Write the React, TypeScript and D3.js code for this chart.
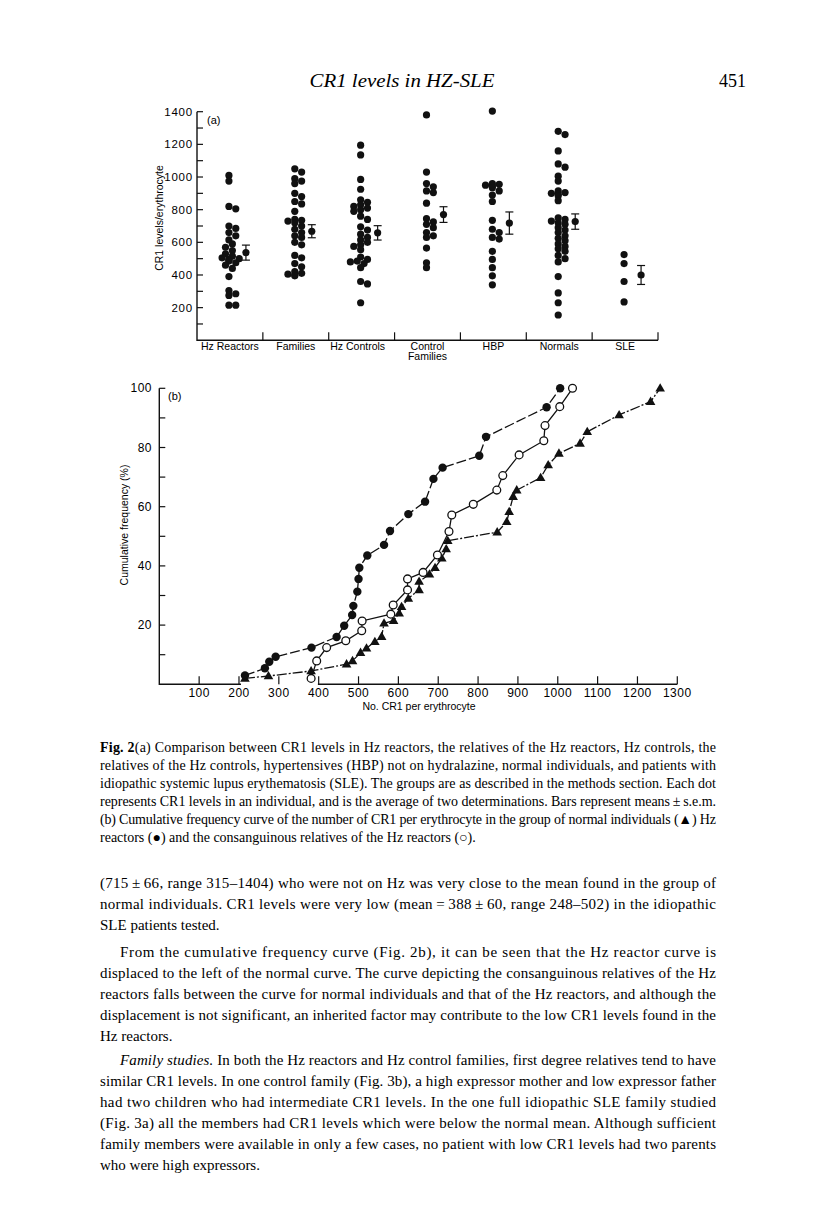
import * as d3 from "d3";

// ---- Fig 2(a): CR1 levels per group ----
const groups = ["Hz Reactors", "Families", "Hz Controls", "Control Families", "HBP", "Normals", "SLE"];

const hzReactors = [1010, 975, 820, 805, 700, 685, 660, 640, 615, 590, 570, 550, 530, 515, 505, 500, 495, 490, 485, 475, 460, 440, 390, 305, 285, 275, 215, 215];
const families = [1050, 1030, 990, 975, 960, 900, 880, 850, 835, 790, 740, 735, 730, 720, 700, 680, 660, 640, 630, 600, 585, 520, 505, 470, 450, 420, 410, 405, 400, 395];
const hzControls = [1195, 1135, 985, 925, 860, 845, 830, 820, 810, 800, 790, 760, 740, 695, 675, 650, 630, 615, 600, 585, 575, 555, 510, 495, 485, 480, 470, 445, 360, 345, 230];
const controlFamilies = [1380, 1030, 960, 940, 915, 905, 840, 745, 725, 710, 690, 660, 640, 630, 565, 475, 445];
const hbp = [1404, 960, 955, 950, 945, 935, 915, 890, 850, 735, 680, 660, 630, 620, 545, 495, 445, 395, 340];
const normals = [1280, 1260, 1160, 1080, 1060, 1005, 975, 915, 905, 900, 895, 885, 855, 750, 740, 730, 720, 710, 690, 675, 660, 640, 625, 610, 590, 575, 560, 545, 520, 500, 480, 390, 290, 230, 155];
const sle = [525, 470, 360, 235];

const groupValues = [hzReactors, families, hzControls, controlFamilies, hbp, normals, sle];
const groupMeans = [537, 668, 658, 770, 718, 727, 400];
const groupSems = [46, 40, 44, 48, 68, 47, 58];

// ---- Fig 2(b): cumulative frequency ----
const reactorsCum: [number, number][] = [
  [215, 3], [265, 5.4], [276, 7.6], [292, 9.3], [382, 12.4], [445, 16], [464, 19.8], [484, 23.4],
  [487, 26.5], [497, 31.3], [500, 35.6], [502, 39.4], [522, 43.5], [564, 47.1], [579, 51.8],
  [625, 57.5], [667, 61.7], [688, 69.4], [711, 73.2], [803, 77.2], [820, 83.6], [972, 93.6], [1006, 100],
];
const relativesCum: [number, number][] = [
  [381, 2], [395, 7.9], [420, 12.4], [468, 14.7], [508, 18.1], [509, 21.4], [581, 23.7], [587, 26.8],
  [623, 31.9], [623, 35.6], [662, 37.8], [698, 43.7], [727, 51.6], [734, 57.2], [788, 60.8],
  [847, 65.6], [862, 70.5], [903, 77.5], [965, 82.3], [968, 87.4], [1005, 93.8], [1037, 100],
];
const normalsCum: [number, number][] = [
  [215, 2], [274, 2.8], [381, 4.5], [470, 6.8], [485, 7.9], [505, 10.7], [520, 12.2], [541, 14.4],
  [558, 16.1], [564, 20.6], [588, 21.5], [602, 24], [608, 26.2], [625, 29], [652, 31.9], [652, 34.7],
  [678, 37.2], [692, 39.4], [709, 42.6], [720, 45.7], [724, 48.5], [848, 51.4], [872, 54.9],
  [878, 58.3], [888, 63.4], [897, 65.6], [957, 69.8], [976, 74.1], [1003, 78], [1056, 81.4],
  [1074, 85.3], [1154, 91], [1233, 95.5], [1257, 100],
];

const captionLines = [
  "(a) Comparison between CR1 levels in Hz reactors, the relatives of the Hz reactors, Hz controls, the",
  "relatives of the Hz controls, hypertensives (HBP) not on hydralazine, normal individuals, and patients with",
  "idiopathic systemic lupus erythematosis (SLE). The groups are as described in the methods section. Each dot",
  "represents CR1 levels in an individual, and is the average of two determinations. Bars represent means\u2009±\u2009s.e.m.",
  "(b) Cumulative frequency curve of the number of CR1 per erythrocyte in the group of normal individuals (\u25B2) Hz",
  "reactors (\u25CF) and the consanguinous relatives of the Hz reactors (\u25CB).",
];

const bodyLines: [string, boolean, boolean][] = [
  // text, indent, justify
  ["(715\u2009±\u200966, range 315–1404) who were not on Hz was very close to the mean found in the group of", false, true],
  ["normal individuals. CR1 levels were very low (mean\u2009=\u2009388\u2009±\u200960, range 248–502) in the idiopathic", false, true],
  ["SLE patients tested.", false, false],
  ["From the cumulative frequency curve (Fig. 2b), it can be seen that the Hz reactor curve is", true, true],
  ["displaced to the left of the normal curve. The curve depicting the consanguinous relatives of the Hz", false, true],
  ["reactors falls between the curve for normal individuals and that of the Hz reactors, and although the", false, true],
  ["displacement is not significant, an inherited factor may contribute to the low CR1 levels found in the", false, true],
  ["Hz reactors.", false, false],
  ["In both the Hz reactors and Hz control families, first degree relatives tend to have", true, true],
  ["similar CR1 levels. In one control family (Fig. 3b), a high expressor mother and low expressor father", false, true],
  ["had two children who had intermediate CR1 levels. In the one full idiopathic SLE family studied", false, true],
  ["(Fig. 3a) all the members had CR1 levels which were below the normal mean. Although sufficient", false, true],
  ["family members were available in only a few cases, no patient with low CR1 levels had two parents", false, true],
  ["who were high expressors.", false, false],
];
const bodyBaselines = [888, 909, 930, 957, 978, 999, 1020, 1041, 1065, 1086, 1107, 1128, 1149, 1170];

const sans = "'Liberation Sans', Arial, sans-serif";
const serif = "'Liberation Serif', 'Times New Roman', serif";

// simple dodge so touching dots spread sideways
function dodge(values: number[], y: (v: number) => number, r: number) {
  const placed: { x: number; y: number }[] = [];
  return [...values]
    .sort((a, b) => b - a)
    .map((v) => {
      const cy = y(v);
      let dx = 0;
      for (const s of [0, 1, -1, 2, -2, 3, -3]) {
        const cx = s * r * 0.95;
        if (placed.every((p) => Math.hypot(p.x - cx, p.y - cy) >= r * 1.35)) {
          dx = cx;
          break;
        }
      }
      placed.push({ x: dx, y: cy });
      return { x: dx, y: cy };
    });
}

function ChartA() {
  const x = d3.scaleBand().domain(groups).range([197, 658]);
  const y = d3.scaleLinear().domain([0, 1400]).range([340.3, 111.7]);
  const r = 3.6;
  const yTicks = d3.range(100, 1401, 100);
  return (
    <g>
      {/* axes */}
      <path d={`M${x.range()[0]},${y(1400)}V${y(0)}H${x.range()[1]}`} fill="none" stroke="#111" strokeWidth={1.4} />
      {yTicks.map((t) => (
        <line key={t} x1={197} x2={203} y1={y(t)} y2={y(t)} stroke="#111" strokeWidth={1.2} />
      ))}
      {yTicks.filter((t) => t % 200 === 0).map((t) => (
        <text key={t} x={193} y={y(t) + 4} textAnchor="end" fontSize={11.5} fontFamily={sans} letterSpacing={0.8}>
          {t}
        </text>
      ))}
      {groups.map((g) => (
        <line key={g} x1={x(g)! + x.bandwidth()} x2={x(g)! + x.bandwidth()} y1={y(0)} y2={y(0) - 8} stroke="#111" strokeWidth={1.2} />
      ))}
      {groups.map((g) => {
        const cx = x(g)! + x.bandwidth() / 2;
        const words = g === "Control Families" ? ["Control", "Families"] : [g];
        return words.map((w, i) => (
          <text key={g + w} x={cx - (g === "Hz Controls" ? 4 : 0)} y={350 + i * 10} textAnchor="middle" fontSize={10.5} fontFamily={sans}>
            {w}
          </text>
        ));
      })}
      <text transform={`translate(163,218) rotate(-90)`} textAnchor="middle" fontSize={10.5} fontFamily={sans}>
        CR1 levels/erythrocyte
      </text>
      <text x={207} y={124} fontSize={11} fontFamily={sans}>(a)</text>
      {/* dots */}
      {groups.map((g, gi) => {
        const cx = x(g)! + x.bandwidth() / 2 - 1;
        return dodge(groupValues[gi], y, r).map((p, i) => (
          <circle key={g + i} cx={cx + p.x} cy={p.y} r={r} fill="#111" />
        ));
      })}
      {/* mean ± sem */}
      {groups.map((g, gi) => {
        const mx = x(g)! + x.bandwidth() / 2 + 16;
        const hi = y(groupMeans[gi] + groupSems[gi]);
        const lo = y(groupMeans[gi] - groupSems[gi]);
        return (
          <g key={g + "m"} stroke="#111" strokeWidth={1.2}>
            <line x1={mx} x2={mx} y1={hi} y2={lo} />
            <line x1={mx - 4} x2={mx + 4} y1={hi} y2={hi} />
            <line x1={mx - 4} x2={mx + 4} y1={lo} y2={lo} />
            <circle cx={mx} cy={y(groupMeans[gi])} r={3.6} fill="#111" stroke="none" />
          </g>
        );
      })}
    </g>
  );
}

function ChartB() {
  const x = d3.scaleLinear().domain([0, 1300]).range([159.3, 677.3]);
  const y = d3.scaleLinear().domain([0, 100]).range([684.3, 388.3]);
  const line = d3.line<[number, number]>().x((d) => x(d[0])).y((d) => y(d[1]));
  const tri = d3.symbol(d3.symbolTriangle, 40)()!;
  const yTicks = d3.range(10, 101, 10);
  const xTicks = d3.range(100, 1301, 100);
  return (
    <g>
      <path d={`M${x(0)},${y(100)}V${y(0)}H${x(205)}`} fill="none" stroke="#111" strokeWidth={1.4} />
      <path d={`M${x(398)},${y(0)}H${x(1300)}`} fill="none" stroke="#111" strokeWidth={1.4} />
      {yTicks.map((t) => (
        <line key={t} x1={x(0)} x2={x(0) + 6} y1={y(t)} y2={y(t)} stroke="#111" strokeWidth={1.2} />
      ))}
      {yTicks.filter((t) => t % 20 === 0).map((t) => (
        <text key={t} x={152} y={y(t) + 4} textAnchor="end" fontSize={12} fontFamily={sans} letterSpacing={0.5}>
          {t}
        </text>
      ))}
      {xTicks.map((t) => (
        <line key={t} x1={x(t)} x2={x(t)} y1={y(0)} y2={y(0) - 8} stroke="#111" strokeWidth={1.2} />
      ))}
      {xTicks.map((t) => (
        <text key={t} x={x(t)} y={697} textAnchor="middle" fontSize={12} fontFamily={sans} letterSpacing={0.5}>
          {t}
        </text>
      ))}
      <text x={419} y={710} textAnchor="middle" fontSize={10.5} fontFamily={sans}>No. CR1 per erythrocyte</text>
      <text transform={`translate(128,525) rotate(-90)`} textAnchor="middle" fontSize={10.5} fontFamily={sans}>
        Cumulative frequency (%)
      </text>
      <text x={168} y={400} fontSize={11} fontFamily={sans}>(b)</text>

      {/* series lines */}
      <path d={line(normalsCum)!} fill="none" stroke="#111" strokeWidth={1.3} strokeDasharray="10,2,2,2" />
      <path d={line(reactorsCum)!} fill="none" stroke="#111" strokeWidth={1.3} strokeDasharray="10,3" />
      <path d={line(relativesCum)!} fill="none" stroke="#111" strokeWidth={1.3} />

      {normalsCum.map((d, i) => (
        <path key={"n" + i} d={tri} transform={`translate(${x(d[0])},${y(d[1]) + 0.5})`} fill="#111" />
      ))}
      {reactorsCum.map((d, i) => (
        <circle key={"r" + i} cx={x(d[0])} cy={y(d[1])} r={4.2} fill="#111" />
      ))}
      {relativesCum.map((d, i) => (
        <circle key={"o" + i} cx={x(d[0])} cy={y(d[1])} r={3.9} fill="#fff" stroke="#111" strokeWidth={1.3} />
      ))}
    </g>
  );
}

export default function App() {
  return (
    <svg width={816} height={1231} viewBox="0 0 816 1231" style={{ position: "absolute", left: 0, top: 0, background: "#fff" }}>
      <text x={402} y={87} textAnchor="middle" fontSize={19} fontStyle="italic" fontFamily={serif} textLength={185} lengthAdjust="spacingAndGlyphs">
        CR1 levels in HZ-SLE
      </text>
      <text x={746} y={87} textAnchor="end" fontSize={18} fontFamily={serif}>451</text>

      <ChartA />
      <ChartB />

      {captionLines.map((l, i) => (
        <text
          key={"c" + i}
          x={100}
          y={752 + i * 18}
          fontSize={14}
          fontFamily={serif}
          textLength={i < 5 ? 616 : undefined}
          lengthAdjust="spacing"
        >
          {i === 0 && <tspan fontWeight="bold">Fig. 2</tspan>}
          {l}
        </text>
      ))}

      {bodyLines.map(([l, indent, justify], i) => (
        <text
          key={"b" + i}
          x={indent ? 120 : 100}
          y={bodyBaselines[i]}
          fontSize={15}
          fontFamily={serif}
          textLength={justify ? (indent ? 596 : 616) : undefined}
          lengthAdjust="spacing"
        >
          {i === 8 && <tspan fontStyle="italic">Family studies. </tspan>}
          {l}
        </text>
      ))}
    </svg>
  );
}
